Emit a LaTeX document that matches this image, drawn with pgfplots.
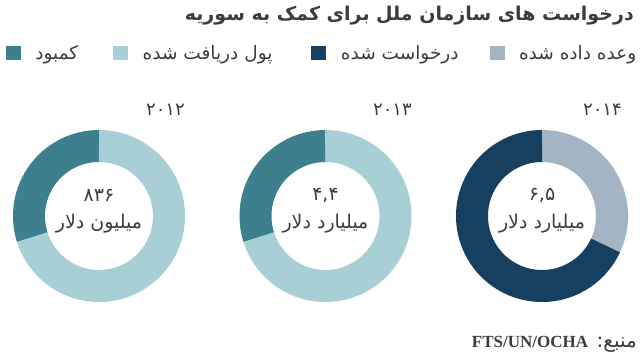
\documentclass[border=0pt]{standalone}
\usepackage{pgfplots}
\pgfplotsset{compat=1.18}
\usepackage{fontspec}
\setmainfont{Liberation Serif}
\newfontfamily\arabicfont[Script=Arabic]{DejaVu Sans}
\TeXXeTstate=1
\definecolor{cteal}{HTML}{3D7F8C}
\definecolor{clight}{HTML}{A9CFD6}
\definecolor{cnavy}{HTML}{173F5F}
\definecolor{cgray}{HTML}{A3B5C4}
\definecolor{ctext}{HTML}{3C3C3C}
\begin{document}
\begin{tikzpicture}
% shares (percent) of the first segment of each ring
\def\sA{29.9}% 2012: shortfall
\def\sB{29.9}% 2013: shortfall
\def\sC{31.9}% 2014: pledged
\pgfmathsetmacro\aA{90+3.6*\sA}
\pgfmathsetmacro\aB{90+3.6*\sB}
\pgfmathsetmacro\aC{90-3.6*\sC}
\begin{axis}[
  width=640bp, height=360bp, scale only axis,
  xmin=0, xmax=640, ymin=0, ymax=360,
  hide axis, clip=false,
  legend columns=4,
  legend style={at={(axis cs:6,307)}, anchor=west, draw=none, fill=none,
    inner sep=0pt, outer sep=0pt,
    nodes={inner sep=0pt},
    font=\arabicfont\fontsize{18.5bp}{20bp}\selectfont, text=ctext,
    /tikz/every odd column/.append style={column sep=15bp},
    /tikz/column 2/.append style={column sep=35bp},
    /tikz/column 4/.append style={column sep=39bp},
    /tikz/column 6/.append style={column sep=31bp}},
]
\path (axis cs:0,0) rectangle (axis cs:640,360);
% 2012
\addplot[cteal, line width=32bp, domain=90:\aA, samples=120, variable=\t, forget plot] ({99+70*cos(\t)},{144+70*sin(\t)});
\addplot[clight, line width=32bp, domain=\aA:450, samples=200, variable=\t, forget plot] ({99+70*cos(\t)},{144+70*sin(\t)});
% 2013
\addplot[cteal, line width=32bp, domain=90:\aB, samples=120, variable=\t, forget plot] ({325.5+70*cos(\t)},{144+70*sin(\t)});
\addplot[clight, line width=32bp, domain=\aB:450, samples=200, variable=\t, forget plot] ({325.5+70*cos(\t)},{144+70*sin(\t)});
% 2014
\addplot[cgray, line width=32bp, domain=\aC:90, samples=120, variable=\t, forget plot] ({542+70*cos(\t)},{144+70*sin(\t)});
\addplot[cnavy, line width=32bp, domain=-270:\aC, samples=200, variable=\t, forget plot] ({542+70*cos(\t)},{144+70*sin(\t)});
% legend
\addlegendimage{legend image code/.code={\fill[cteal] (0bp,-6.5bp) rectangle (14bp,6.5bp);}}
\addlegendentry{\beginR کمبود\endR}
\addlegendimage{legend image code/.code={\fill[clight] (0bp,-6.5bp) rectangle (14bp,6.5bp);}}
\addlegendentry{\beginR پول دریافت شده\endR}
\addlegendimage{legend image code/.code={\fill[cnavy] (0bp,-6.5bp) rectangle (14bp,6.5bp);}}
\addlegendentry{\beginR درخواست شده\endR}
\addlegendimage{legend image code/.code={\fill[cgray] (0bp,-6.5bp) rectangle (14bp,6.5bp);}}
\addlegendentry{\beginR وعده داده شده\endR}
% title
\node[anchor=base east, text=ctext, inner sep=0pt, font=\arabicfont\bfseries\fontsize{19bp}{22bp}\selectfont] at (axis cs:634,340) {\beginR درخواست های سازمان ملل برای کمک به سوریه\endR};
% years
\node[anchor=east, text=ctext, inner sep=0pt, font=\arabicfont\fontsize{18bp}{20bp}\selectfont] at (axis cs:185,250) {۲۰۱۲};
\node[anchor=east, text=ctext, inner sep=0pt, font=\arabicfont\fontsize{18bp}{20bp}\selectfont] at (axis cs:412,250) {۲۰۱۳};
\node[anchor=east, text=ctext, inner sep=0pt, font=\arabicfont\fontsize{18bp}{20bp}\selectfont] at (axis cs:622,250) {۲۰۱۴};
% centre labels
\node[text=ctext, inner sep=0pt, font=\arabicfont\fontsize{19bp}{22bp}\selectfont] at (axis cs:99,165) {۸۳۶};
\node[text=ctext, inner sep=0pt, font=\arabicfont\fontsize{19bp}{22bp}\selectfont] at (axis cs:99,136) {\beginR میلیون دلار\endR};
\node[text=ctext, inner sep=0pt, font=\arabicfont\fontsize{19bp}{22bp}\selectfont] at (axis cs:325.5,165) {۴,۴};
\node[text=ctext, inner sep=0pt, font=\arabicfont\fontsize{19bp}{22bp}\selectfont] at (axis cs:325.5,136) {\beginR میلیارد دلار\endR};
\node[text=ctext, inner sep=0pt, font=\arabicfont\fontsize{19bp}{22bp}\selectfont] at (axis cs:542,165) {۶,۵};
\node[text=ctext, inner sep=0pt, font=\arabicfont\fontsize{19bp}{22bp}\selectfont] at (axis cs:542,136) {\beginR میلیارد دلار\endR};
% source
\node[anchor=base east, text=ctext, inner sep=0pt] at (axis cs:637,13) {\arabicfont\fontsize{20bp}{22bp}\selectfont\beginR منبع: \beginL{\rmfamily\bfseries\fontsize{17bp}{19bp}\selectfont FTS/UN/OCHA}\endL\endR};
\end{axis}
\end{tikzpicture}
\end{document}
